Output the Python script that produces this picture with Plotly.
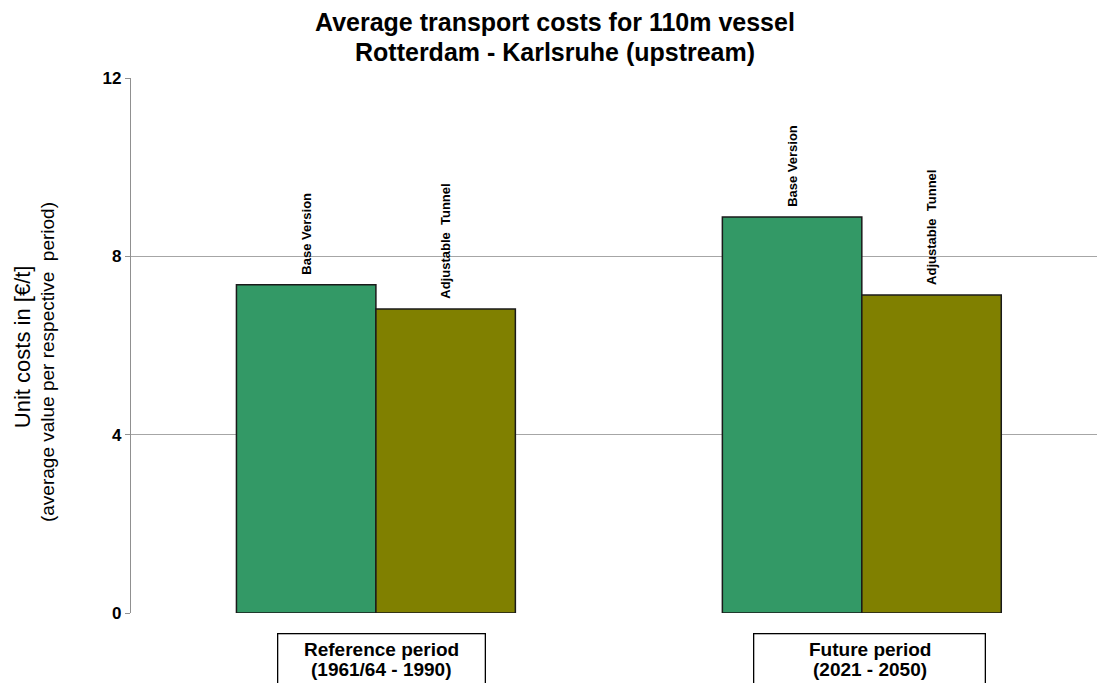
import plotly.graph_objects as go

categories = ["Reference period<br>(1961/64 - 1990)", "Future period<br>(2021 - 2050)"]
series_names = ["Base Version", "Adjustable\u00a0 Tunnel"]
base_values = [7.36, 8.88]
tunnel_values = [6.82, 7.13]
y_ticks = [0, 4, 8, 12]
title_lines = ["Average transport costs for 110m vessel", "Rotterdam - Karlsruhe (upstream)"]
ytitle_lines = ["Unit costs in [€/t]", "(average value per respective\u00a0 period)"]

FONT = "Liberation Sans, Arial, sans-serif"
x_idx = list(range(len(categories)))

fig = go.Figure()
for name, vals, color in [(series_names[0], base_values, "#339966"),
                          (series_names[1], tunnel_values, "#808000")]:
    fig.add_trace(go.Bar(
        x=x_idx, y=vals, name=name,
        marker=dict(color=color, line=dict(color="#1a1a1a", width=1.5)),
        text=["\u00a0\u00a0" + name] * len(vals), textposition="outside", textangle=-90,
        textfont=dict(family=FONT, size=13, color="black", weight="bold"),
        cliponaxis=False,
    ))

fig.update_layout(
    width=1097, height=683,
    margin=dict(l=131, r=0, t=78, b=70),
    paper_bgcolor="white", plot_bgcolor="white",
    barmode="group", bargap=0.426, bargroupgap=0,
    showlegend=False,
    xaxis=dict(range=[-0.504, 1.484], showticklabels=False, showgrid=False,
               zeroline=False, showline=False, ticks=""),
    yaxis=dict(range=[0, 12], tickvals=y_ticks, showgrid=True, gridcolor="#a6a6a6",
               gridwidth=1.2, zeroline=False, showline=True, linecolor="#909090",
               linewidth=1.2, ticks="outside", ticklen=5, tickcolor="#909090",
               tickfont=dict(family=FONT, size=17, color="black", weight="bold")),
)

# title (two lines)
for line, yp in zip(title_lines, [1.1047, 1.0486]):
    fig.add_annotation(xref="paper", yref="paper", x=0.4389, y=yp, xanchor="center",
                       yanchor="middle", showarrow=False, text=line,
                       font=dict(family=FONT, size=25, color="black", weight="bold"))

# y-axis title (two lines)
for line, xp, yp, fs in zip(ytitle_lines, [-0.1128, -0.087], [0.497, 0.469], [22, 19]):
    fig.add_annotation(xref="paper", yref="paper", x=xp, y=yp, xanchor="center",
                       yanchor="middle", textangle=-90, showarrow=False, text=line,
                       font=dict(family=FONT, size=fs, color="black"))

# category boxes
widths = [206, 230]
shifts = [6, 8]
for i, cat in enumerate(categories):
    fig.add_annotation(xref="x", yref="paper", x=i, y=-0.0374, xanchor="center", yanchor="top",
                       xshift=shifts[i], text=" ", showarrow=False,
                       width=widths[i], height=60, bordercolor="black", borderwidth=1.3,
                       borderpad=0, bgcolor="white")
    for line, yp in zip(cat.split("<br>"), [-0.0673, -0.1047]):
        fig.add_annotation(xref="x", yref="paper", x=i, y=yp, xanchor="center", yanchor="middle",
                           xshift=shifts[i], text=line, showarrow=False,
                           font=dict(family=FONT, size=19, color="black", weight="bold"))

fig.write_html("out.html")
